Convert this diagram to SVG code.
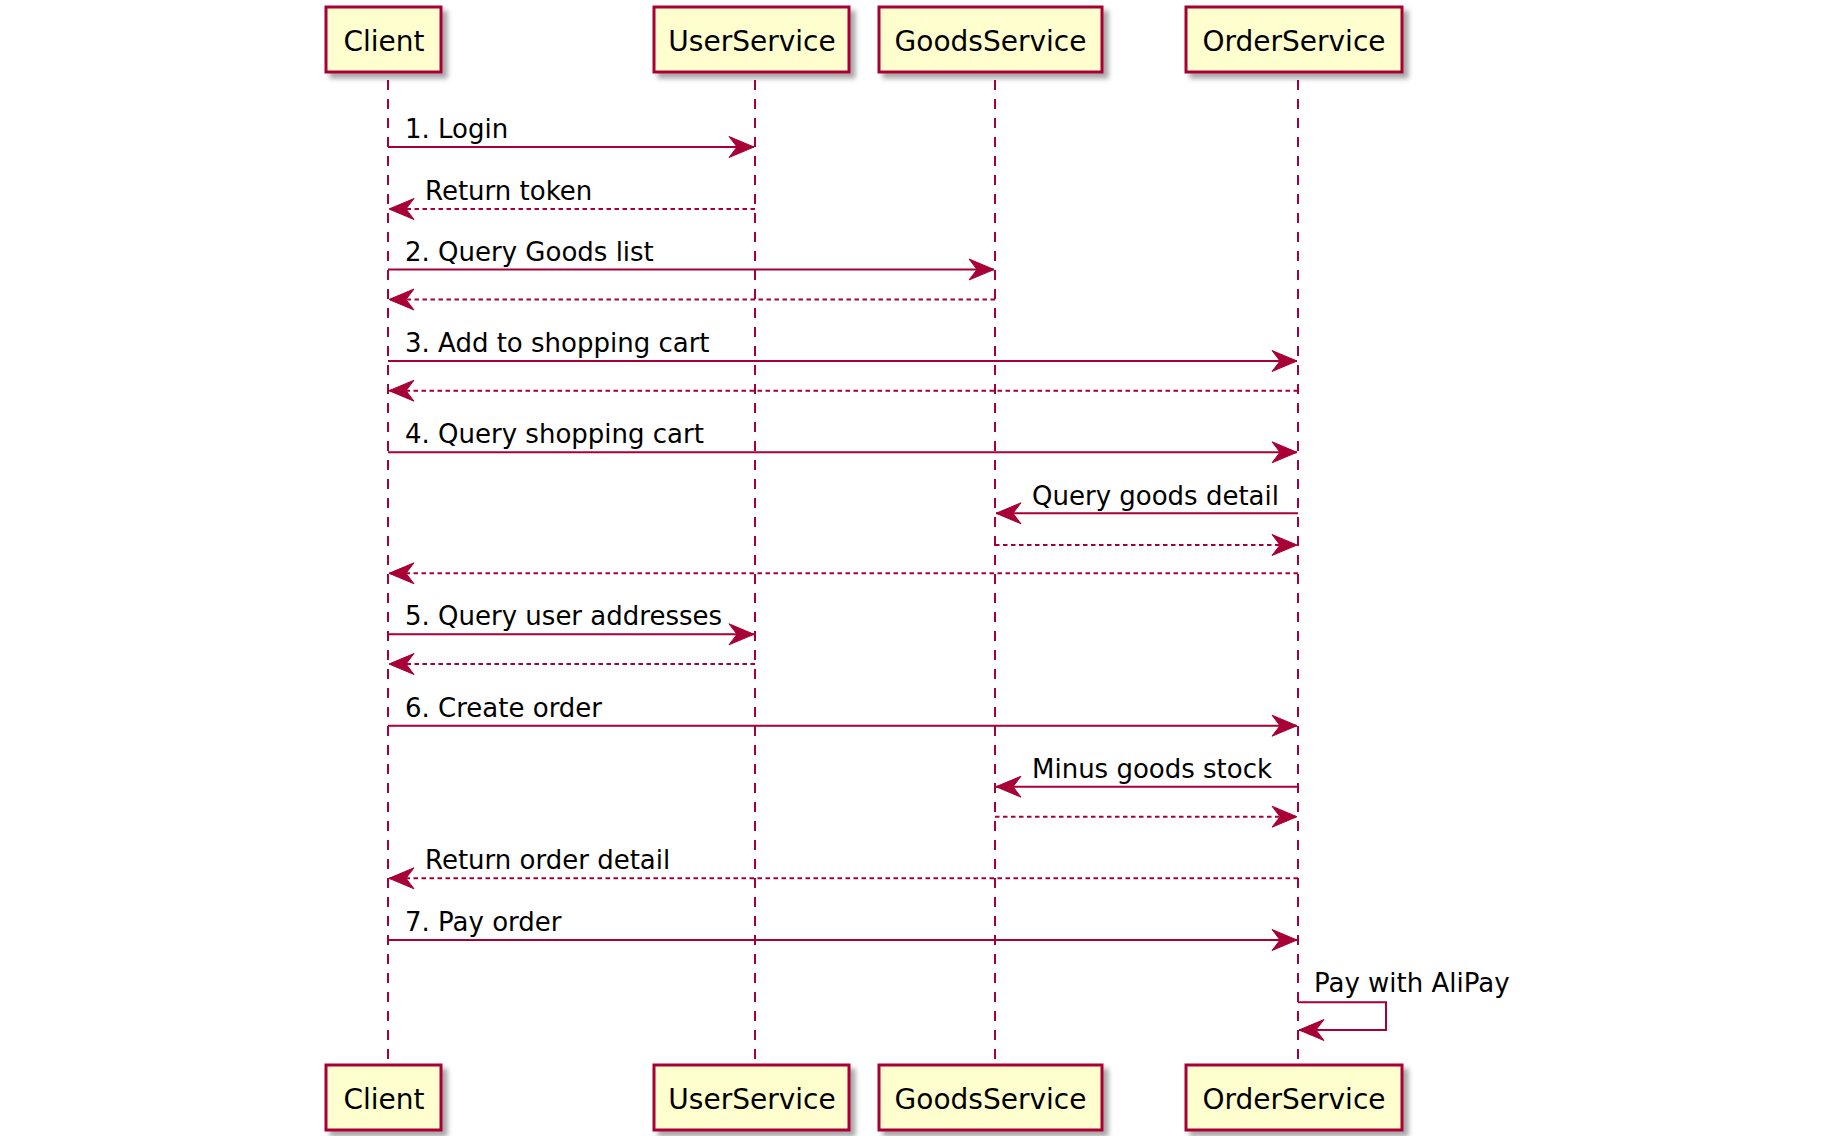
<svg xmlns="http://www.w3.org/2000/svg" width="1836" height="1136" viewBox="0 0 1836 1136">
<style>
.box{fill:#FEFECE;stroke:#A80036;stroke-width:3;filter:url(#sh)}
.pt{font-family:"DejaVu Sans","Liberation Sans",sans-serif;font-size:28px;fill:#000;text-anchor:middle}
.life{stroke:#A80036;stroke-width:2;stroke-dasharray:10,9;fill:none}
.msg{stroke:#A80036;stroke-width:2;fill:none;marker-end:url(#ah)}
.ret{stroke:#A80036;stroke-width:2;fill:none;stroke-dasharray:4.5,3.5;marker-end:url(#ah)}
.lbl{font-family:"DejaVu Sans","Liberation Sans",sans-serif;font-size:26px;fill:#000}
</style>
<defs>
<filter id="sh" x="-10%" y="-10%" width="130%" height="140%">
<feDropShadow dx="5" dy="5" stdDeviation="2.5" flood-color="#000" flood-opacity="0.35"/>
</filter>
<marker id="ah" markerUnits="userSpaceOnUse" markerWidth="27" markerHeight="23" viewBox="-26 -11.5 27 23" refX="0" refY="0" orient="auto">
<path d="M0,0 L-25,-10.5 L-17,0 L-25,10.5 Z" fill="#A80036" stroke="#A80036" stroke-width="1"/>
</marker>
</defs>
<rect width="1836" height="1136" fill="#fff"/>
<g id="lifelines">
<line class="life" x1="388" y1="80" x2="388" y2="1062"/>
<line class="life" x1="755" y1="80" x2="755" y2="1062"/>
<line class="life" x1="995" y1="80" x2="995" y2="1062"/>
<line class="life" x1="1298" y1="80" x2="1298" y2="1062"/>
</g>
<g id="Client">
<rect class="box" x="326" y="7" width="115" height="65"/>
<text class="pt" x="384" y="51">Client</text>
<rect class="box" x="326" y="1065" width="115" height="65"/>
<text class="pt" x="384" y="1109">Client</text>
</g>
<g id="UserService">
<rect class="box" x="654" y="7" width="195" height="65"/>
<text class="pt" x="752" y="51">UserService</text>
<rect class="box" x="654" y="1065" width="195" height="65"/>
<text class="pt" x="752" y="1109">UserService</text>
</g>
<g id="GoodsService">
<rect class="box" x="879" y="7" width="223" height="65"/>
<text class="pt" x="990.5" y="51">GoodsService</text>
<rect class="box" x="879" y="1065" width="223" height="65"/>
<text class="pt" x="990.5" y="1109">GoodsService</text>
</g>
<g id="OrderService">
<rect class="box" x="1186" y="7" width="216" height="65"/>
<text class="pt" x="1294" y="51">OrderService</text>
<rect class="box" x="1186" y="1065" width="216" height="65"/>
<text class="pt" x="1294" y="1109">OrderService</text>
</g>
<g id="connectors">
<line class="msg" x1="388" y1="147" x2="754" y2="147"/>
<text class="lbl" x="405" y="138">1. Login</text>
<line class="ret" x1="755" y1="209" x2="389" y2="209"/>
<text class="lbl" x="425" y="200">Return token</text>
<line class="msg" x1="388" y1="269.5" x2="994" y2="269.5"/>
<text class="lbl" x="405" y="260.5">2. Query Goods list</text>
<line class="ret" x1="995" y1="299.5" x2="389" y2="299.5"/>
<line class="msg" x1="388" y1="361" x2="1297" y2="361"/>
<text class="lbl" x="405" y="352">3. Add to shopping cart</text>
<line class="ret" x1="1298" y1="390.7" x2="389" y2="390.7"/>
<line class="msg" x1="388" y1="452.3" x2="1297" y2="452.3"/>
<text class="lbl" x="405" y="443.3">4. Query shopping cart</text>
<line class="msg" x1="1298" y1="513.3" x2="996" y2="513.3"/>
<text class="lbl" x="1032" y="504.5">Query goods detail</text>
<line class="ret" x1="995" y1="545" x2="1297" y2="545"/>
<line class="ret" x1="1298" y1="573.3" x2="389" y2="573.3"/>
<line class="msg" x1="388" y1="634.3" x2="754" y2="634.3"/>
<text class="lbl" x="405" y="625.3">5. Query user addresses</text>
<line class="ret" x1="755" y1="664" x2="389" y2="664"/>
<line class="msg" x1="388" y1="725.7" x2="1297" y2="725.7"/>
<text class="lbl" x="405" y="716.7">6. Create order</text>
<line class="msg" x1="1298" y1="786.7" x2="996" y2="786.7"/>
<text class="lbl" x="1032" y="777.7">Minus goods stock</text>
<line class="ret" x1="995" y1="816.7" x2="1297" y2="816.7"/>
<line class="ret" x1="1298" y1="878.3" x2="389" y2="878.3"/>
<text class="lbl" x="425" y="869.3">Return order detail</text>
<line class="msg" x1="388" y1="940" x2="1297" y2="940"/>
<text class="lbl" x="405" y="931">7. Pay order</text>
<path class="msg" d="M1298,1002.3 H1386 V1030 H1299"/>
<text class="lbl" x="1314" y="992">Pay with AliPay</text>
</g>
</svg>
